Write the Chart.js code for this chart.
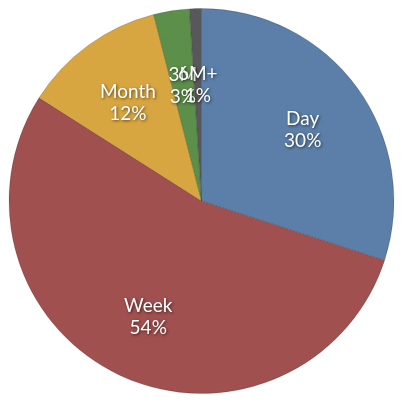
<!DOCTYPE html>
<html><head><script src="https://cdn.jsdelivr.net/npm/chart.js@4"></script>
<style>html,body{margin:0;background:#fff}#wrap{width:403px;height:402px}</style></head>
<body><div id="wrap"><canvas id="pie"></canvas></div>
<script>
const labels = ['Day', 'Week', 'Month', '3M', '6M+'];
const values = [30, 54, 12, 3, 1];
const colors = ['#5b7fa8', '#a0504f', '#d8a640', '#5c8f4a', '#58585c'];

// draw the name and percentage inside each slice
const sliceLabels = {
    id: 'sliceLabels',
    afterDatasetsDraw(chart) {
        const ctx = chart.ctx;
        const total = values.reduce((a, b) => a + b, 0);
        chart.getDatasetMeta(0).data.forEach((arc, i) => {
            const mid = (arc.startAngle + arc.endAngle) / 2;
            const r = arc.outerRadius * (values[i] < 5 ? 0.62 : 0.65);
            const x = arc.x + Math.cos(mid) * r;
            const y = arc.y + Math.sin(mid) * r;
            ctx.save();
            ctx.font = '19px Lato';
            ctx.fillStyle = '#fff';
            ctx.textAlign = 'center';
            ctx.shadowColor = 'rgba(0,0,0,0.6)';
            ctx.shadowBlur = 3;
            ctx.shadowOffsetX = 1;
            ctx.shadowOffsetY = 1;
            ctx.fillText(labels[i], x, y - 2);
            ctx.fillText(Math.round(values[i] / total * 100) + '%', x, y + 20);
            ctx.restore();
        });
    }
};

new Chart(document.getElementById('pie'), {
    type: 'pie',
    data: {
        labels: labels,
        datasets: [{
            data: values,
            backgroundColor: colors,
            borderColor: 'rgba(0,0,0,0.15)',
            borderWidth: 1
        }]
    },
    options: {
        responsive: true,
        maintainAspectRatio: false,
        animation: false,
        layout: { padding: 8 },
        plugins: { legend: { display: false }, tooltip: { enabled: false } }
    },
    plugins: [sliceLabels]
});
</script></body></html>
